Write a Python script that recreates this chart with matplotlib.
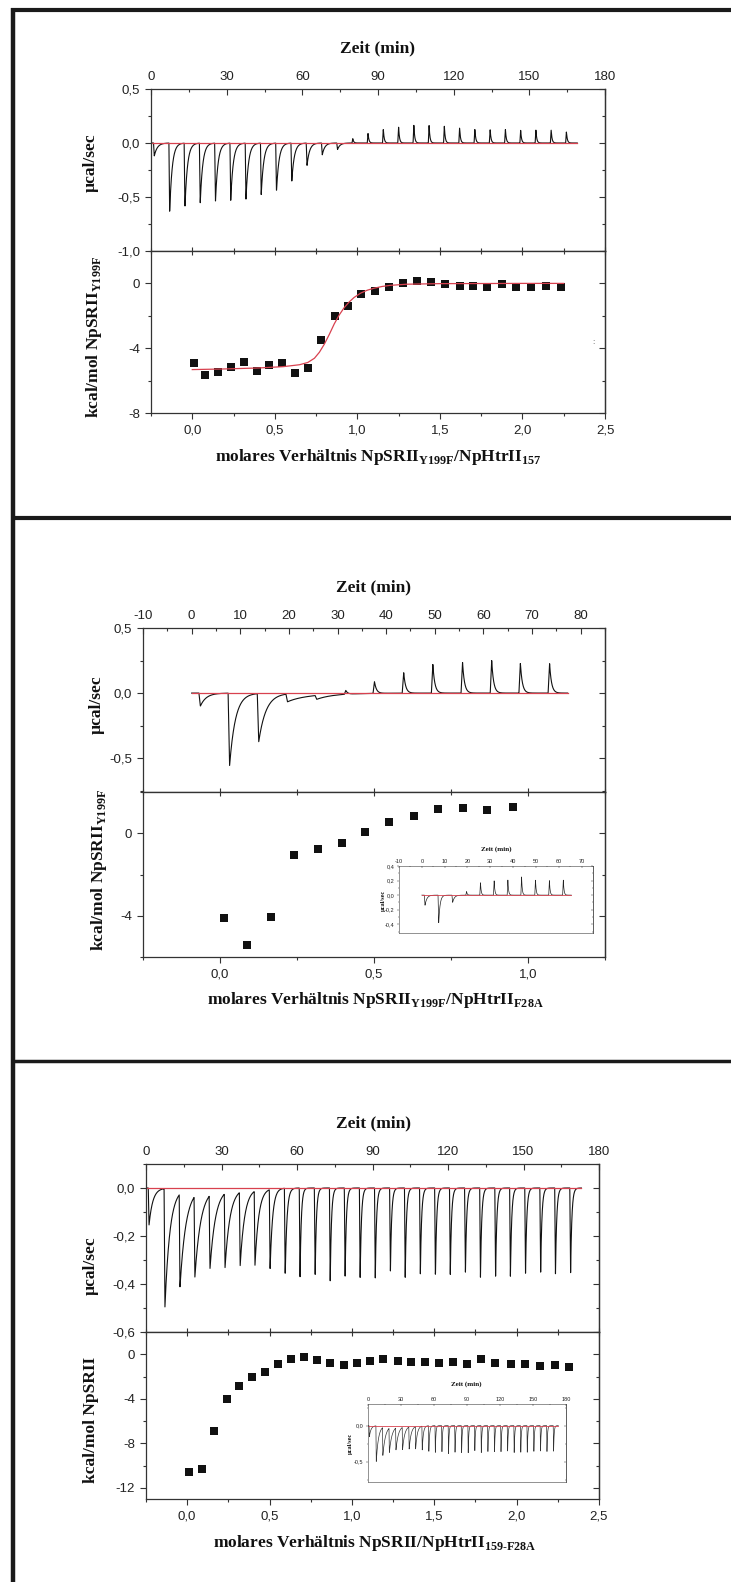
import numpy as np
import matplotlib.pyplot as plt
from matplotlib.lines import Line2D
from matplotlib.ticker import MultipleLocator, FuncFormatter, NullFormatter

# --- Daten ---

# Panel 1: NpSRII_Y199F / NpHtrII_157
p1_inj_time = [1.0, 7.1, 13.15, 19.2, 25.25, 31.3, 37.35, 43.4, 49.45, 55.5,
               61.55, 67.6, 73.65, 79.7, 85.75, 91.8, 97.85, 103.9, 109.95, 116.0,
               122.05, 128.1, 134.15, 140.2, 146.25, 152.3, 158.35, 164.4]
p1_inj_peak = [-0.12, -0.64, -0.60, -0.565, -0.545, -0.535, -0.52, -0.48, -0.45, -0.36,
               -0.21, -0.11, -0.06, 0.04, 0.09, 0.13, 0.155, 0.17, 0.165, 0.155,
               0.14, 0.13, 0.13, 0.13, 0.12, 0.12, 0.12, 0.105]
p1_inj_tau = [1.2] + [1.0] * 12 + [0.35] * 15
p1_trace_end = 169.0
p1_ratio = [0.008, 0.079, 0.158, 0.234, 0.311, 0.39, 0.466, 0.545, 0.624, 0.703,
            0.782, 0.862, 0.943, 1.025, 1.107, 1.192, 1.277, 1.362, 1.446, 1.531,
            1.619, 1.70, 1.788, 1.876, 1.963, 2.051, 2.141, 2.232]
p1_heat = [-4.92, -5.64, -5.48, -5.15, -4.86, -5.39, -5.03, -4.92, -5.5, -5.21,
           -3.49, -2.03, -1.37, -0.66, -0.45, -0.23, 0.0, 0.12, 0.10, -0.02,
           -0.14, -0.14, -0.2, -0.06, -0.23, -0.23, -0.16, -0.2]
p1_fit_ratio = [0.0, 0.2, 0.4, 0.55, 0.65, 0.70, 0.74, 0.77, 0.80, 0.83, 0.86, 0.89,
                0.92, 0.95, 0.98, 1.02, 1.06, 1.1, 1.15, 1.2, 1.3, 1.5, 2.0, 2.25]
p1_fit_heat = [-5.32, -5.28, -5.22, -5.14, -5.02, -4.88, -4.62, -4.25, -3.75, -3.15, -2.5, -1.95,
               -1.5, -1.15, -0.87, -0.6, -0.42, -0.3, -0.19, -0.12, -0.05, -0.015, 0.0, 0.0]

# Panel 2: NpSRII_Y199F / NpHtrII_F28A
p2_inj_time = [1.5, 7.5, 13.5, 19.4, 25.4, 31.4, 37.3, 43.3, 49.3, 55.4, 61.4, 67.3, 73.3]
p2_inj_peak = [-0.10, -0.56, -0.37, -0.06, -0.03, 0.03, 0.09, 0.16, 0.22, 0.24, 0.25, 0.23, 0.23]
p2_inj_tau = [1.2, 1.2, 1.5, 5.0, 3.0, 0.4, 0.4, 0.4, 0.4, 0.4, 0.4, 0.4, 0.4]
p2_trace_end = 77.3
p2_ratio = [0.014, 0.089, 0.165, 0.24, 0.318, 0.395, 0.472, 0.55, 0.63, 0.708, 0.788, 0.868, 0.95]
p2_heat = [-4.11, -5.41, -4.06, -1.06, -0.755, -0.45, 0.08, 0.56, 0.835, 1.2, 1.24, 1.14, 1.25]

# Inset Panel 2
ins2_inj_time = [1.1, 7.1, 13.2, 19.3, 25.4, 31.4, 37.4, 43.4, 49.5, 55.6, 61.7]
ins2_inj_peak = [-0.14, -0.38, -0.10, 0.05, 0.17, 0.20, 0.21, 0.25, 0.21, 0.20, 0.21]
ins2_inj_tau = [0.8, 0.6, 0.8, 0.3, 0.3, 0.3, 0.3, 0.3, 0.3, 0.3, 0.3]
ins2_trace_end = 65.5

# Panel 3: NpSRII / NpHtrII_159-F28A
p3_inj_time = [0.9, 7.2, 13.2, 19.1, 25.1, 31.1, 37.1, 43.0, 49.0, 55.0, 60.9, 66.9, 72.9,
               78.8, 84.8, 90.8, 96.8, 102.7, 108.7, 114.7, 120.6, 126.6, 132.6, 138.6,
               144.5, 150.5, 156.5, 162.4, 168.4]
p3_inj_peak = [-0.155, -0.50, -0.39, -0.34, -0.31, -0.31, -0.31, -0.31, -0.335, -0.37,
               -0.38, -0.38, -0.39, -0.385, -0.38, -0.38, -0.36, -0.375, -0.37, -0.375,
               -0.37, -0.37, -0.375, -0.375, -0.375, -0.36, -0.365, -0.36, -0.365]
p3_inj_tau = [1.5, 2.0, 2.4, 2.4, 2.2, 2.0, 1.8, 1.5, 1.0, 0.7] + [0.5] * 19
p3_trace_end = 173.0
p3_ratio = [0.014, 0.09, 0.164, 0.24, 0.316, 0.395, 0.47, 0.55, 0.63, 0.71,
            0.79, 0.867, 0.95, 1.028, 1.11, 1.19, 1.277, 1.36, 1.443, 1.53,
            1.613, 1.70, 1.785, 1.87, 1.963, 2.05, 2.14, 2.23, 2.316]
p3_heat = [-10.6, -10.3, -6.87, -4.03, -2.84, -2.06, -1.61, -0.90, -0.45, -0.27,
           -0.54, -0.75, -0.93, -0.75, -0.63, -0.45, -0.57, -0.69, -0.66, -0.75,
           -0.66, -0.84, -0.45, -0.75, -0.87, -0.84, -1.04, -0.96, -1.10]

# --- Layout ---
W, H = 731, 1582
SERIF = ['Liberation Serif', 'DejaVu Serif']
SANS = ['Liberation Sans Narrow', 'Liberation Sans', 'DejaVu Sans']
AXC = '#333333'
RED = '#d8414f'

plt.rcParams['font.family'] = SANS


def box(x0, y0, x1, y1):
    return [x0 / W, 1 - y1 / H, (x1 - x0) / W, (y1 - y0) / H]


def fx(x):
    return x / W


def fy(y):
    return 1 - y / H


def comma(v, pos):
    if abs(v) < 1e-9:
        v = 0.0
    return f"{v:.1f}".replace('.', ',')


def integer(v, pos):
    if abs(v) < 1e-9:
        v = 0
    return f"{v:.0f}"


def thermogram(times, peaks, taus, end, rise=0.3):
    # Injektionspeaks: schneller Ausschlag, exponentielle Rueckkehr zur Basislinie
    t = np.linspace(0, end, 4000)
    y = np.zeros_like(t)
    for t0, h, tau in zip(times, peaks, taus):
        d = t - t0
        up = (d >= 0) & (d < rise)
        y[up] += h * d[up] / rise
        dn = d >= rise
        y[dn] += h * np.exp(-(d[dn] - rise) / tau)
    return t, y


def style(ax, xmaj, xmin, ymaj, ymin, xfmt, yfmt, upper, k=1.0):
    for s in ax.spines.values():
        s.set_color(AXC)
        s.set_linewidth(0.9 * k)
    ax.xaxis.set_major_locator(MultipleLocator(xmaj))
    ax.xaxis.set_minor_locator(MultipleLocator(xmin))
    ax.yaxis.set_major_locator(MultipleLocator(ymaj))
    ax.yaxis.set_minor_locator(MultipleLocator(ymin))
    ax.xaxis.set_major_formatter(FuncFormatter(xfmt))
    ax.yaxis.set_major_formatter(FuncFormatter(yfmt))
    ax.tick_params(which='both', width=0.8 * k, color=AXC, labelsize=9.5 * k,
                   pad=4 * k, labelcolor='#222222')
    ax.tick_params(which='major', length=4 * k)
    ax.tick_params(which='minor', length=2.3 * k)
    ax.tick_params(axis='y', which='both', direction='out', left=True, right=False)

    sy = ax.secondary_yaxis('right')
    sy.yaxis.set_major_locator(MultipleLocator(ymaj))
    sy.yaxis.set_minor_locator(MultipleLocator(ymin))
    sy.yaxis.set_major_formatter(NullFormatter())
    sy.tick_params(which='both', direction='in', width=0.8 * k, color=AXC)
    sy.tick_params(which='major', length=4 * k)
    sy.tick_params(which='minor', length=2.3 * k)
    sy.spines['right'].set_color(AXC)
    sy.spines['right'].set_linewidth(0.9 * k)

    if upper:
        ax.tick_params(axis='x', which='both', direction='in', top=True, bottom=False,
                       labeltop=True, labelbottom=False)
    else:
        ax.tick_params(axis='x', which='both', direction='out', top=False, bottom=True)
        sx = ax.secondary_xaxis('top')
        sx.xaxis.set_major_locator(MultipleLocator(xmaj))
        sx.xaxis.set_minor_locator(MultipleLocator(xmin))
        sx.xaxis.set_major_formatter(NullFormatter())
        sx.tick_params(which='both', direction='inout', width=0.8 * k, color=AXC)
        sx.tick_params(which='major', length=6 * k)
        sx.tick_params(which='minor', length=4 * k)
        sx.spines['top'].set_color(AXC)


def label(x, y, s, rot=0, size=12.5):
    fig.text(fx(x), fy(y), s, family=SERIF, weight='bold', size=size,
             ha='center', va='center', rotation=rot, color='#111111')


fig = plt.figure(figsize=(W / 100, H / 100), dpi=100)

# --- Rahmen ---
frame = dict(color='#1a1a1a', solid_capstyle='butt')
fig.add_artist(Line2D([fx(12.5), fx(12.5)], [fy(7.5), fy(1582)], lw=3.2, **frame))
fig.add_artist(Line2D([fx(10.5), fx(731)], [fy(9.5), fy(9.5)], lw=3.0, **frame))
fig.add_artist(Line2D([fx(12.5), fx(731)], [fy(518), fy(518)], lw=3.0, **frame))
fig.add_artist(Line2D([fx(12.5), fx(731)], [fy(1060.5), fy(1060.5)], lw=2.5, **frame))

# --- Panel 1 ---
ax = fig.add_axes(box(151, 89, 605, 251))
t, y = thermogram(p1_inj_time, p1_inj_peak, p1_inj_tau, p1_trace_end)
ax.plot(t, y, color='#111111', lw=0.8)
ax.plot([0, p1_trace_end], [0, 0], color=RED, lw=0.9)
ax.set_xlim(0, 180)
ax.set_ylim(-1.0, 0.5)
style(ax, 30, 15, 0.5, 0.25, integer, comma, True)

ax = fig.add_axes(box(151, 251, 605, 413))
ax.plot(p1_ratio, p1_heat, 's', color='#111111', ms=5.5, mew=0)
ax.plot(p1_fit_ratio, p1_fit_heat, color=RED, lw=0.9)
ax.set_xlim(-0.25, 2.5)
ax.set_ylim(-8, 2)
style(ax, 0.5, 0.25, 4, 2, comma, integer, False)

label(378, 48, 'Zeit (min)')
label(91, 163, 'µcal/sec', rot=90)
label(94, 337, 'kcal/mol NpSRII$_\\mathregular{Y199F}$', rot=90)
label(378, 457, 'molares Verhältnis NpSRII$_\\mathregular{Y199F}$/NpHtrII$_\\mathregular{157}$')
fig.text(fx(593), fy(343), ':', size=6, ha='center', va='center', color='#444444')

# --- Panel 2 ---
ax = fig.add_axes(box(143, 628, 605, 792))
t, y = thermogram(p2_inj_time, p2_inj_peak, p2_inj_tau, p2_trace_end)
ax.plot(t, y, color='#111111', lw=0.8)
ax.plot([0, p2_trace_end], [0, 0], color=RED, lw=0.9)
ax.set_xlim(-10, 85)
ax.set_ylim(-0.76, 0.5)
style(ax, 10, 5, 0.5, 0.25, integer, comma, True)

ax = fig.add_axes(box(143, 792, 605, 957))
ax.plot(p2_ratio, p2_heat, 's', color='#111111', ms=5.5, mew=0)
ax.set_xlim(-0.25, 1.25)
ax.set_ylim(-6, 2)
style(ax, 0.5, 0.25, 4, 2, comma, integer, False)

ins = fig.add_axes(box(399, 866, 593, 933))
t, y = thermogram(ins2_inj_time, ins2_inj_peak, ins2_inj_tau, ins2_trace_end)
ins.plot(t, y, color='#222222', lw=0.5)
ins.plot([0, ins2_trace_end], [0, 0], color=RED, lw=0.6)
ins.set_xlim(-10, 75)
ins.set_ylim(-0.52, 0.4)
style(ins, 10, 5, 0.2, 0.1, integer, comma, True, k=0.42)
label(496, 849, 'Zeit (min)', size=5)
label(383, 900, 'µcal/sec', rot=90, size=4.5)

label(373, 587, 'Zeit (min)')
label(97, 705, 'µcal/sec', rot=90)
label(99, 870, 'kcal/mol NpSRII$_\\mathregular{Y199F}$', rot=90)
label(375, 1000, 'molares Verhältnis NpSRII$_\\mathregular{Y199F}$/NpHtrII$_\\mathregular{F28A}$')

# --- Panel 3 ---
ax = fig.add_axes(box(146, 1164, 599, 1332))
t, y = thermogram(p3_inj_time, p3_inj_peak, p3_inj_tau, p3_trace_end)
ax.plot(t, y, color='#111111', lw=0.8)
ax.plot([0, p3_trace_end], [0, 0], color=RED, lw=0.9)
ax.set_xlim(0, 180)
ax.set_ylim(-0.6, 0.1)
style(ax, 30, 15, 0.2, 0.1, integer, comma, True)

ax = fig.add_axes(box(146, 1332, 599, 1499))
ax.plot(p3_ratio, p3_heat, 's', color='#111111', ms=5.5, mew=0)
ax.set_xlim(-0.25, 2.5)
ax.set_ylim(-13, 2)
style(ax, 0.5, 0.25, 4, 2, comma, integer, False)

ins = fig.add_axes(box(368, 1404, 566, 1482))
ins.plot(t, y, color='#333333', lw=0.5)
ins.plot([0, p3_trace_end], [0, 0], color=RED, lw=0.6)
ins.set_xlim(0, 180)
ins.set_ylim(-0.78, 0.3)
style(ins, 30, 15, 0.5, 0.25, integer, comma, True, k=0.42)
label(466, 1384, 'Zeit (min)', size=5)
label(350, 1443, 'µcal/sec', rot=90, size=4.5)

label(373, 1123, 'Zeit (min)')
label(91, 1266, 'µcal/sec', rot=90)
label(91, 1420, 'kcal/mol NpSRII', rot=90)
label(375, 1543, 'molares Verhältnis NpSRII/NpHtrII$_\\mathregular{159\u2011F28A}$')

fig.savefig('out.png', dpi=100, facecolor='white')
